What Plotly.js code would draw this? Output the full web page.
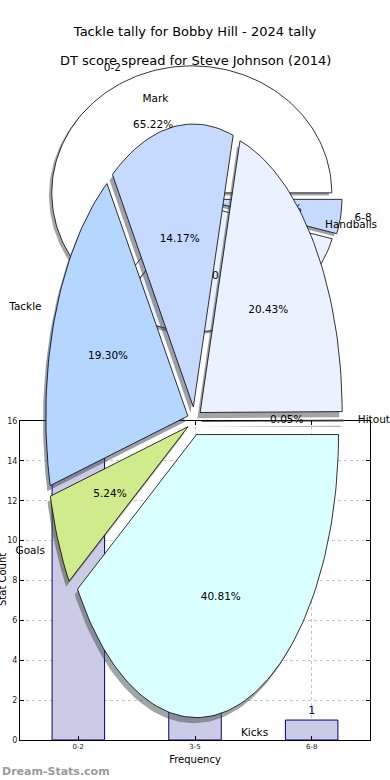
<!DOCTYPE html>
<html><head><meta charset="utf-8">
<script src="https://cdn.plot.ly/plotly-3.0.1.min.js"></script>
<style>html,body{margin:0;padding:0;background:#fff}</style>
</head><body><div id="chart" style="width:390px;height:780px"></div>
<script>
// ---- data ----
const tackleLabels = ['Hitout','Handballs','Mark','Tackle','Goals','Kicks'];
const tackleValues = [0.05, 20.43, 14.17, 19.30, 5.24, 40.81];
const tackleColors = ['#e0e0e0','#ebf2ff','#c6daff','#b5d6ff','#d0eb8c','#d9ffff'];

const dtLabels = ['0-2','3-5','6-8'];
const dtValues = [15, 7, 1];
const dtColors = ['#ffffff','#ebf2ff','#c6daff'];

const barCategories = ['0-2','3-5','6-8'];
const barValues = [15, 7, 1];

const tackleTitle = 'Tackle tally for Bobby Hill - 2024 tally';
const dtTitle = 'DT score spread for Steve Johnson (2014)';

// ---- helpers ----
function shadowColor(hex){
  const r=parseInt(hex.slice(1,3),16),g=parseInt(hex.slice(3,5),16),b=parseInt(hex.slice(5,7),16);
  return `rgba(${Math.round(r*0.3)},${Math.round(g*0.3)},${Math.round(b*0.3)},0.5)`;
}
function pieTraces(values, labels, colors, g){
  const total = values.reduce((a,b)=>a+b,0);
  const P=(x,y)=>[g.cx + x*g.rx, g.cy - y*g.ry];
  const shadows=[], wedges=[];
  const lab={x:[],y:[],text:[],pos:[]}, pct={x:[],y:[],text:[]};
  let cum=0;
  values.forEach((v,i)=>{
    const f=v/total;
    const t1=cum*2*Math.PI, t2=(cum+f)*2*Math.PI; cum+=f;
    const tm=(t1+t2)/2;
    const ox=g.explode*Math.cos(tm), oy=g.explode*Math.sin(tm);
    const n=Math.max(2,Math.ceil(f*240));
    const xs=[],ys=[];
    let p=P(ox,oy); xs.push(p[0]); ys.push(p[1]);
    for(let k=0;k<=n;k++){
      const t=t1+(t2-t1)*k/n;
      p=P(ox+Math.cos(t),oy+Math.sin(t)); xs.push(p[0]); ys.push(p[1]);
    }
    xs.push(xs[0]); ys.push(ys[0]);
    shadows.push({type:'scatter',mode:'lines',xaxis:'x2',yaxis:'y2',
      x:xs.map(a=>a-0.02*g.rx), y:ys.map(a=>a+0.02*g.ry),
      fill:'toself', fillcolor:shadowColor(colors[i]), line:{width:0}, hoverinfo:'skip'});
    wedges.push({type:'scatter',mode:'lines',xaxis:'x2',yaxis:'y2',x:xs,y:ys,
      fill:'toself', fillcolor:colors[i], line:{color:'#000',width:0.8}, name:labels[i], hoverinfo:'skip'});
    const lx=ox+1.1*Math.cos(tm), ly=oy+1.1*Math.sin(tm);
    p=P(lx,ly); lab.x.push(p[0]); lab.y.push(p[1]); lab.text.push(labels[i]);
    lab.pos.push(lx>0?'middle right':'middle left');
    const qx=ox+0.6*Math.cos(tm), qy=oy+0.6*Math.sin(tm);
    p=P(qx,qy); pct.x.push(p[0]); pct.y.push(p[1]); pct.text.push((f*100).toFixed(2)+'%');
  });
  const font={family:'DejaVu Sans',size:10.5,color:'#000'};
  const texts=[
    {type:'scatter',mode:'text',xaxis:'x2',yaxis:'y2',x:lab.x,y:lab.y,text:lab.text,textposition:lab.pos,textfont:font,hoverinfo:'skip',cliponaxis:false},
    {type:'scatter',mode:'text',xaxis:'x2',yaxis:'y2',x:pct.x,y:pct.y,text:pct.text,textposition:'middle center',textfont:font,hoverinfo:'skip',cliponaxis:false}
  ];
  return shadows.concat(wedges, texts);
}

// ---- traces ----
const barTrace = {
  type:'bar', x:barCategories, y:barValues, xaxis:'x', yaxis:'y', width:0.45,
  marker:{color:'#cbcbe6', line:{color:'#000080', width:1}},
  text:barValues.map(String), textposition:'outside', cliponaxis:false,
  textfont:{family:'DejaVu Sans', size:11, color:'#000080'}, hoverinfo:'skip'
};
const dtTraces = pieTraces(dtValues, dtLabels, dtColors, {cx:195, cy:198.5, rx:140, ry:127, explode:0.05});
const tackleTraces = pieTraces(tackleValues, tackleLabels, tackleColors, {cx:194.5, cy:421, rx:142, ry:283, explode:0.05});
const data = [barTrace].concat(dtTraces, tackleTraces);

const W=390,H=780;
const layout = {
  width:W, height:H, margin:{l:0,r:0,t:0,b:0},
  paper_bgcolor:'#fff', plot_bgcolor:'rgba(0,0,0,0)', showlegend:false,
  font:{family:'DejaVu Sans', color:'#000'},
  title:{text:tackleTitle, x:0.5, xanchor:'center', y:1-31/H, yanchor:'middle', font:{size:13, family:'DejaVu Sans', color:'#000'}},
  xaxis:{domain:[20/W, 370/W], anchor:'y', type:'category', range:[-0.5,2.5],
    showline:true, linecolor:'#000', linewidth:1, mirror:'ticks', ticks:'inside', ticklen:4, tickcolor:'#000',
    showgrid:true, gridcolor:'#c4c4c4', griddash:'dot', gridwidth:1, zeroline:false,
    tickfont:{size:7, color:'#222'},
    title:{text:'Frequency', font:{size:10, color:'#000'}, standoff:5}},
  yaxis:{domain:[(H-740)/H, (H-421)/H], anchor:'x', range:[0,16], dtick:2,
    showline:true, linecolor:'#000', linewidth:1, mirror:'ticks', ticks:'inside', ticklen:4, tickcolor:'#000',
    showgrid:true, gridcolor:'#c4c4c4', griddash:'dot', gridwidth:1, zeroline:false,
    tickfont:{size:8, color:'#222'}},
  xaxis2:{domain:[0,1], anchor:'y2', range:[0,W], visible:false, fixedrange:true},
  yaxis2:{domain:[0,1], anchor:'x2', range:[H,0], visible:false, fixedrange:true},
  annotations:[
    {text:dtTitle, xref:'paper', yref:'paper', x:0.5, y:1-61/H, xanchor:'center', yanchor:'middle', showarrow:false,
      font:{size:13, family:'DejaVu Sans', color:'#000'}},
    {text:'Stat Count', xref:'paper', yref:'paper', x:2/W, y:1-580/H, xanchor:'center', yanchor:'middle', textangle:-90, showarrow:false,
      font:{size:10, color:'#000'}},
    {text:'<b>Dream-Stats.com</b>', xref:'paper', yref:'paper', x:0, y:1-771/H, xanchor:'left', yanchor:'middle', showarrow:false,
      font:{size:11, color:'#9a9a9a', family:'DejaVu Sans'}}
  ]
};
Plotly.newPlot('chart', data, layout, {staticPlot:true, displayModeBar:false});
</script></body></html>
